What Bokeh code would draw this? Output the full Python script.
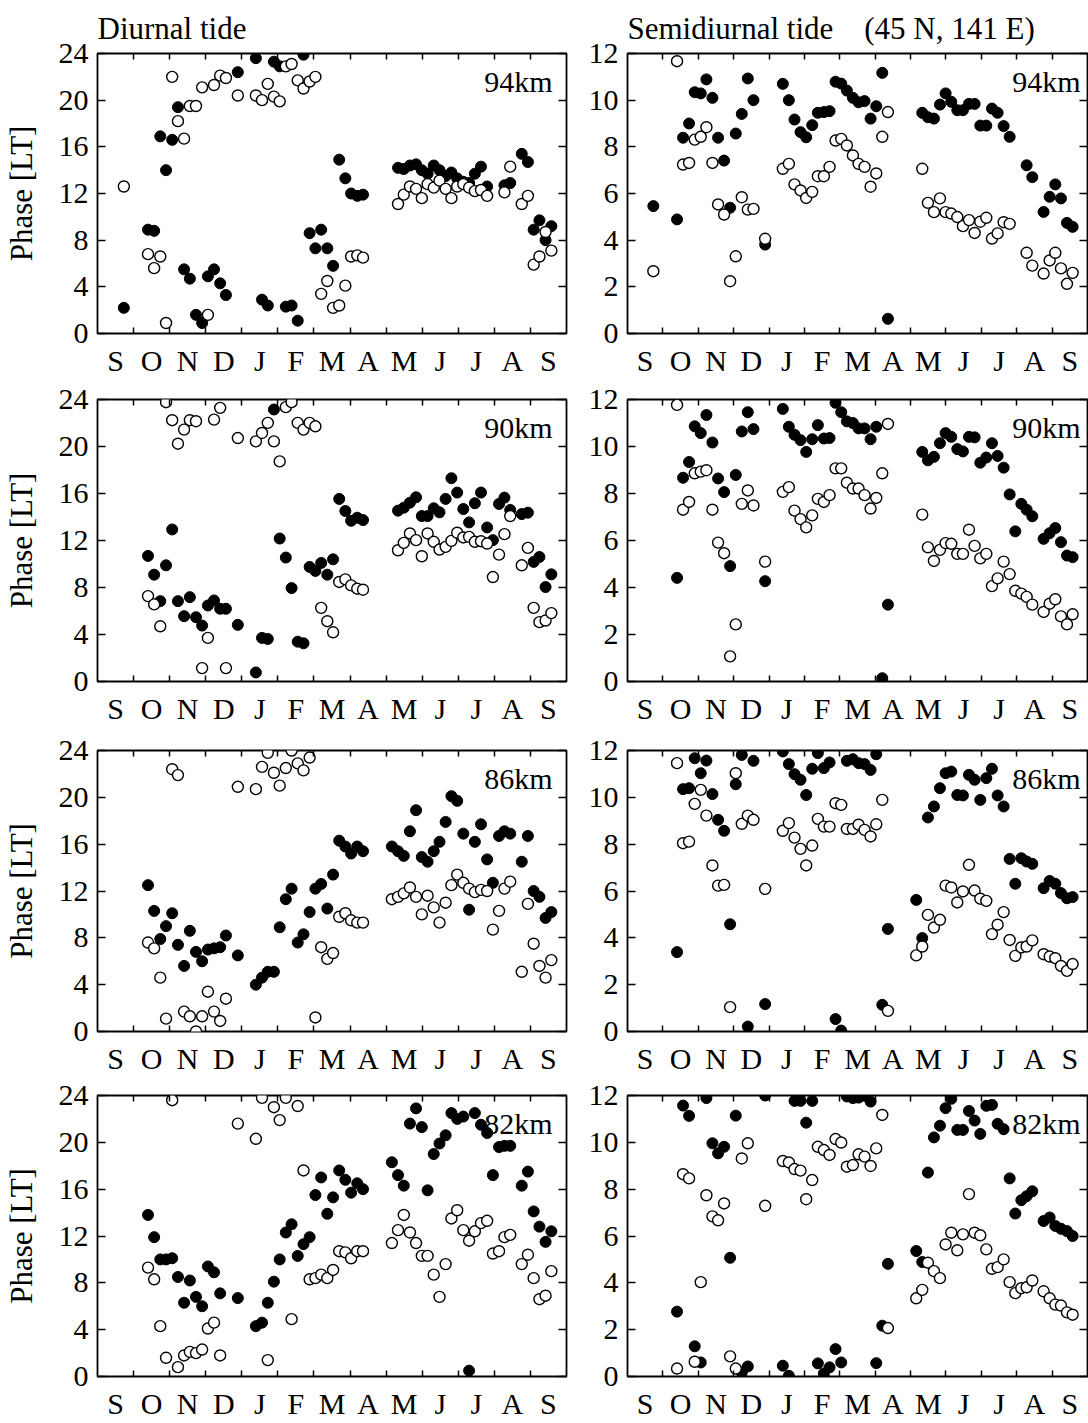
import numpy as np
from bokeh.plotting import figure
from bokeh.models import Range1d, FixedTicker, LinearAxis, Label, ColumnDataSource
from bokeh.layouts import column, row
from bokeh.embed import file_html
from bokeh.resources import INLINE

FONT = "Liberation Serif"

MONTHS = ["S", "O", "N", "D", "J", "F", "M", "A", "M", "J", "J", "A", "S"]

# observation dates, in months counted from 1 September
DATES = [0.73, 1.40, 1.57, 1.74, 1.90, 2.07, 2.23, 2.40, 2.56, 2.73, 2.90, 3.06, 3.23, 3.40, 3.56,
         3.89, 4.39, 4.56, 4.72, 4.89, 5.05, 5.22, 5.38, 5.55, 5.71, 5.88, 6.04, 6.20, 6.37, 6.53,
         6.70, 6.87, 7.03, 7.20, 7.36, 8.16, 8.33, 8.49, 8.66, 8.83, 8.99, 9.15, 9.32, 9.48, 9.65,
         9.81, 9.97, 10.14, 10.30, 10.46, 10.63, 10.80, 10.96, 11.13, 11.28, 11.44, 11.76, 11.93,
         12.09, 12.25, 12.42, 12.58]

# Diurnal tide phase [LT]
D94_FILLED = [2.2, 8.9, 8.8, 16.9, 14.0, 16.6, 19.4, 5.5, 4.7, 1.6, 0.9, 4.9, 5.5, 4.3, 3.3, 22.4, 23.6, 2.9,
              2.4, 23.3, 22.9, 2.3, 2.4, 1.1, 23.9, 8.6, 7.3, 8.9, 7.3, 5.8, 14.9, 13.3, 12.0, 11.8, 11.9,
              None, 14.2, 14.1, 14.4, 14.5, 14.0, 13.7, 14.4, 14.0, 13.5, 13.8, 13.3, 13.0, 12.9, 13.7, 14.3,
              12.6, None, None, 12.7, 12.9, 15.4, 14.7, 8.9, 9.7, 8.0, 9.2]
D94_OPEN = [12.6, 6.8, 5.6, 6.6, 0.9, 22.0, 18.2, 16.7, 19.5, 19.5, 21.1, 1.6, 21.3, 22.1, 21.9, 20.4, 20.4,
            20.0, 21.4, 20.3, 19.9, 22.9, 23.1, 21.7, 21.0, 21.6, 22.0, 3.4, 4.5, 2.2, 2.4, 4.1, 6.6, 6.7, 6.5,
            None, 11.1, 11.9, 12.6, 12.4, 11.6, 12.8, 12.5, 13.1, 12.4, 11.6, 12.6, 12.8, 12.5, 12.2, 12.3,
            11.8, None, None, 12.1, 14.3, 11.1, 11.8, 5.9, 6.6, 8.7, 7.1]
D90_FILLED = [None, 10.69, 9.09, 6.84, 9.89, 12.94, 6.84, 5.56, 7.18, 5.47, 4.76, 6.47, 6.9, 6.19, 6.19, 4.82,
              0.77, 3.71, 3.62, 23.15, 12.17, 10.55, 7.95, 3.39, 3.25, 9.75, 9.41, 10.09, 9.09, 10.4, 15.54,
              14.51, 13.68, 13.94, 13.74, None, 14.54, 14.79, 15.22, 15.68, 14.08, 14.08, 14.74, 14.4, 15.54,
              17.3, 16.08, 14.68, 13.54, 15.17, 16.08, 13.11, 12.03, 15.11, 15.65, 14.6, 14.25, 14.37, 10.18,
              10.6, 8.04, 9.12]
D90_OPEN = [None, 7.27, 6.56, 4.7, 23.77, 22.24, 20.24, 21.44, 22.24, 22.15, 1.14, 3.71, 22.29, 23.29, 1.14,
            20.72, 20.44, 21.15, 22.01, 20.44, 18.73, 23.35, 23.77, 22.01, 21.44, 22.01, 21.72, 6.27, 5.13,
            4.19, 8.47, 8.69, 8.18, 7.9, 7.81, None, 11.17, 11.8, 12.6, 12.03, 10.66, 12.6, 11.89, 11.23,
            11.46, 11.97, 12.66, 12.26, 12.31, 11.89, 11.94, 11.74, 8.89, 10.8, 12.54, 14.08, 9.89, 11.37,
            6.27, 5.05, 5.19, 5.82]
D86_FILLED = [None, 12.5, 10.3, 7.9, 9.0, 10.1, 7.4, 5.6, 8.6, 6.8, 6.0, 7.0, 7.1, 7.2, 8.2, 6.5, 4.0, 4.6,
              5.1, 5.1, 8.9, 11.3, 12.2, 7.6, 8.3, 10.2, 12.2, 12.6, 10.5, 13.4, 16.3, 15.8, 15.2, 15.8, 15.4,
              15.8, 15.4, 15.0, 17.1, 18.9, 14.9, 14.5, 15.4, 16.2, 17.9, 20.1, 19.7, 16.9, 10.4, 16.2, 17.7,
              14.7, 12.7, 16.7, 17.1, 16.9, 14.5, 16.7, 12.0, 11.5, 9.7, 10.2]
D86_OPEN = [None, 7.6, 7.1, 4.6, 1.1, 22.4, 21.9, 1.7, 1.3, 0.0, 1.3, 3.4, 1.7, 0.9, 2.8, 20.9, 20.7, 22.6,
            23.8, 22.1, 21.0, 22.5, 24.0, 22.9, 22.3, 23.4, 1.2, 7.2, 6.2, 6.7, 9.8, 10.1, 9.5, 9.3, 9.3,
            11.3, 11.5, 11.8, 12.3, 11.5, 10.0, 11.6, 10.6, 9.3, 11.0, 12.5, 13.4, 12.7, 12.2, 11.9, 12.1,
            12.0, 8.7, 10.3, 12.2, 12.8, 5.1, 10.9, 7.5, 5.6, 4.6, 6.1]
D82_FILLED = [None, 13.8, 11.9, 10.0, 10.0, 10.1, 8.5, 6.3, 8.2, 6.8, 6.0, 9.4, 8.9, 7.1, None, 6.7, 4.3, 4.6,
              6.3, 8.1, 10.0, 12.3, 13.0, 10.3, 11.3, 11.9, 15.5, 17.0, 13.9, 15.3, 17.6, 16.8, 15.7, 16.5,
              16.0, 18.3, 17.2, 16.3, 21.6, 22.9, 21.3, 15.9, 19.0, 19.9, 20.6, 22.5, 22.0, 22.2, 0.5, 22.5,
              21.5, 20.8, 17.2, 19.6, 19.7, 19.7, 16.3, 17.5, 14.1, 12.8, 11.5, 12.4]
D82_OPEN = [None, 9.3, 8.3, 4.3, 1.6, 23.6, 0.8, 1.8, 2.1, 2.0, 2.3, 4.1, 4.6, 1.8, None, 21.6, 20.3, 23.8,
            1.4, 23.0, 21.9, 23.8, 4.9, 23.1, 17.6, 8.3, 8.4, 8.7, 8.4, 9.1, 10.7, 10.6, 10.1, 10.7, 10.7,
            11.4, 12.5, 13.8, 12.3, 11.4, 10.3, 10.3, 8.7, 6.8, 9.6, 13.5, 14.2, 12.5, 11.6, 12.4, 13.1,
            13.3, 10.5, 10.7, 11.9, 12.1, 9.6, 10.4, 8.4, 6.6, 6.9, 9.0]

# Semidiurnal tide phase [LT]
S94_FILLED = [5.46, 4.89, 8.39, 9.0, 10.34, 10.29, 10.89, 10.1, 8.39, 7.41, 5.39, 8.57, 9.41, 10.93, 10.0,
              3.81, 10.7, 10.0, 9.17, 8.63, 8.41, 8.93, 9.46, 9.49, 9.53, 10.79, 10.71, 10.41, 10.1, 9.91,
              9.96, 9.21, 9.74, 11.17, 0.63, None, 9.46, 9.27, 9.21, 9.81, 10.29, 9.93, 9.57, 9.57, 9.84,
              9.84, 8.91, 8.91, 9.64, 9.46, 8.89, 8.43, None, None, 7.21, 6.7, 5.21, 5.86, 6.39, 5.79, 4.74,
              4.57]
S94_OPEN = [2.67, 11.67, 7.24, 7.31, 8.31, 8.43, 8.84, 7.31, 5.53, 5.10, 2.24, 3.31, 5.84, 5.31, 5.34, 4.06,
            7.06, 7.27, 6.39, 6.13, 5.81, 6.07, 6.74, 6.74, 7.14, 8.27, 8.34, 8.06, 7.63, 7.27, 7.14, 6.29,
            6.86, 8.43, 9.49, None, 7.06, 5.6, 5.2, 5.79, 5.2, 5.14, 4.99, 4.6, 4.86, 4.31, 4.79, 4.96,
            4.07, 4.29, 4.77, 4.7, None, None, 3.46, 2.91, 2.57, 3.13, 3.46, 2.79, 2.13, 2.6]
S90_FILLED = [None, 4.41, 8.67, 9.34, 10.86, 10.57, 11.34, 10.17, 8.64, 8.06, 4.91, 8.79, 10.64, 11.46,
              10.74, 4.27, 11.6, 10.84, 10.5, 10.27, 9.77, 10.31, 10.91, 10.34, 10.36, 11.86, 11.46, 11.07,
              11.0, 10.77, 10.77, 10.31, 10.84, 0.14, 3.27, None, 9.77, 9.41, 9.56, 10.14, 10.57, 10.41,
              9.89, 9.79, 10.41, 10.39, 9.31, 9.53, 10.14, 9.6, 9.1, 7.96, 6.39, 7.56, 7.31, 7.03, 6.07,
              6.31, 6.53, 5.93, 5.36, 5.29]
S90_OPEN = [None, 11.77, 7.31, 7.64, 8.86, 8.93, 8.99, 7.31, 5.91, 5.46, 1.07, 2.43, 7.56, 8.13, 7.49, 5.1,
            8.07, 8.27, 7.27, 6.91, 6.56, 7.07, 7.77, 7.64, 7.93, 9.07, 9.07, 8.46, 8.21, 8.21, 7.93, 7.36,
            7.81, 8.86, 10.96, None, 7.1, 5.71, 5.13, 5.6, 5.89, 5.86, 5.43, 5.43, 6.46, 5.77, 5.24, 5.43,
            4.06, 4.39, 5.1, 4.57, 3.86, 3.74, 3.6, 3.27, 2.96, 3.31, 3.5, 2.77, 2.43, 2.86]
S86_FILLED = [None, 3.39, 10.35, 10.39, 11.67, 11.03, 11.57, 10.14, 9.04, 8.57, 4.58, 10.56, 11.81, 0.21,
              11.56, 1.17, 11.96, 11.42, 10.99, 10.75, 10.1, 11.22, 11.89, 11.25, 11.49, 0.53, 0.04, 11.56,
              11.63, 11.46, 11.42, 11.17, 11.84, 1.14, 4.38, 5.62, 3.99, 9.14, 9.61, 10.39, 11.03, 11.1,
              10.1, 10.08, 10.96, 10.75, 9.89, 10.82, 11.22, 10.08, 9.61, 7.37, 6.31, 7.4, 7.26, 7.16, 6.12,
              6.43, 6.31, 5.91, 5.69, 5.74]
S86_OPEN = [None, 11.46, 8.04, 8.11, 9.72, 10.32, 9.22, 7.09, 6.23, 6.26, 1.04, 11.03, 8.87, 9.22, 9.04,
            6.09, 8.57, 8.9, 8.28, 7.8, 7.09, 7.94, 9.08, 8.75, 8.75, 9.75, 9.68, 8.65, 8.65, 8.83, 8.61,
            8.33, 8.85, 9.89, 0.88, 3.25, 3.63, 4.98, 4.44, 4.77, 6.23, 6.15, 5.51, 5.98, 7.12, 6.02, 5.67,
            5.58, 4.16, 4.56, 5.1, 3.91, 3.23, 3.59, 3.63, 3.89, 3.3, 3.2, 3.13, 2.8, 2.59, 2.88]
S82_FILLED = [None, 2.77, 11.57, 11.13, 1.29, 0.6, 11.89, 9.96, 9.53, 9.81, 5.07, 11.14, 0.17, 0.43, None,
              12.0, 0.46, 0.03, 11.77, 11.77, 10.84, 11.77, 0.56, 0.13, 0.39, 1.17, 0.6, 11.96, 11.89, 11.91,
              11.99, 11.74, 0.57, 2.17, 4.81, 5.36, 4.89, 8.71, 10.21, 10.71, 11.46, 11.86, 10.53, 10.53,
              11.34, 10.93, 10.36, 11.56, 11.6, 10.79, 10.56, 8.46, 6.96, 7.53, 7.7, 7.91, 6.64, 6.79, 6.43,
              6.31, 6.21, 6.0]
S82_OPEN = [None, 0.34, 8.64, 8.46, 0.63, 4.03, 7.74, 6.84, 6.67, 7.39, 0.86, 0.34, 9.31, 9.96, None, 7.29,
            9.2, 9.14, 8.86, 8.79, 7.57, 8.39, 9.81, 9.67, 9.46, 10.14, 9.99, 8.96, 9.03, 9.49, 9.39, 8.99,
            9.74, 11.17, 2.07, 3.34, 3.7, 4.86, 4.5, 4.2, 5.64, 6.14, 5.39, 6.07, 7.79, 6.14, 6.03, 5.43,
            4.6, 4.67, 5.0, 4.03, 3.56, 3.77, 3.81, 4.1, 3.64, 3.34, 3.07, 3.03, 2.74, 2.64]

HEIGHTS = ["94km", "90km", "86km", "82km"]
DIURNAL_TICKS = [0, 4, 8, 12, 16, 20, 24]
SEMIDIURNAL_TICKS = [0, 2, 4, 6, 8, 10, 12]

# (top border, frame height, bottom border) of each row
ROW_BORDERS = [(53, 280, 47), (19, 282, 50), (19, 281, 45), (18, 281, 43)]


def make_panel(filled, opened, yticks, km, left_col, borders, title_text=None):
    top, fh, bottom = borders
    if left_col:
        fw, bl, br, km_off = 469, 97, 14, 14
    else:
        fw, bl, br, km_off = 460, 47, 1, 7
    ymax = yticks[-1]
    p = figure(frame_width=fw, frame_height=fh, x_range=Range1d(0, 13), y_range=Range1d(0, ymax),
               min_border_left=bl, min_border_right=br, min_border_top=top, min_border_bottom=bottom,
               output_backend="svg", toolbar_location=None)
    p.xgrid.visible = False
    p.ygrid.visible = False
    p.background_fill_color = "white"
    p.border_fill_color = "white"
    p.outline_line_color = "black"
    p.outline_line_width = 1.8
    p.outline_line_alpha = 1.0

    if title_text:
        p.title.text = title_text
        p.title.align = "left"
        p.title.text_font = FONT
        p.title.text_font_size = "31px"
        p.title.text_font_style = "normal"
        p.title.text_color = "black"
        p.title.standoff = 15
        p.title.offset = 0
    else:
        p.title.text = ""

    # bottom axis: month letters between tick marks
    xa = p.xaxis[0]
    xa.ticker = FixedTicker(ticks=[i + 0.5 for i in range(13)], minor_ticks=list(range(1, 13)))
    xa.major_label_overrides = {i + 0.5: MONTHS[i] for i in range(13)}
    xa.major_tick_in = 0
    xa.major_tick_out = 0
    xa.minor_tick_in = 6
    xa.minor_tick_out = 0
    xa.minor_tick_line_color = "black"
    xa.minor_tick_line_width = 1.5
    xa.axis_line_color = None
    xa.major_label_text_font = FONT
    xa.major_label_text_font_size = "30px"
    xa.major_label_text_color = "black"
    xa.major_label_standoff = 10

    top_ax = LinearAxis(ticker=FixedTicker(ticks=[], minor_ticks=list(range(1, 13))),
                        major_tick_in=0, major_tick_out=0, minor_tick_in=6, minor_tick_out=0,
                        minor_tick_line_color="black", minor_tick_line_width=1.5,
                        axis_line_color=None, major_label_text_font_size="0px")
    p.add_layout(top_ax, "above")

    ya = p.yaxis[0]
    ya.ticker = FixedTicker(ticks=yticks)
    ya.major_tick_in = 8
    ya.major_tick_out = 0
    ya.minor_tick_in = 0
    ya.minor_tick_out = 0
    ya.major_tick_line_color = "black"
    ya.major_tick_line_width = 1.5
    ya.axis_line_color = None
    ya.major_label_text_font = FONT
    ya.major_label_text_font_size = "30px"
    ya.major_label_text_color = "black"
    ya.major_label_standoff = 9
    if left_col:
        ya.axis_label = "Phase [LT]"
        ya.axis_label_text_font = FONT
        ya.axis_label_text_font_size = "31px"
        ya.axis_label_text_font_style = "normal"
        ya.axis_label_text_color = "black"
        ya.axis_label_standoff = 17

    right_ax = LinearAxis(ticker=FixedTicker(ticks=[], minor_ticks=yticks),
                          major_tick_in=0, major_tick_out=0, minor_tick_in=8, minor_tick_out=0,
                          minor_tick_line_color="black", minor_tick_line_width=1.5,
                          axis_line_color=None, major_label_text_font_size="0px")
    p.add_layout(right_ax, "right")

    src = ColumnDataSource(dict(x=np.array(DATES, dtype=float),
                                yf=np.array(filled, dtype=float),
                                yo=np.array(opened, dtype=float)))
    p.scatter("x", "yf", source=src, marker="circle", size=11,
              fill_color="black", line_color="black", line_width=1)
    p.scatter("x", "yo", source=src, marker="circle", size=11,
              fill_color="white", line_color="black", line_width=1.4)

    p.add_layout(Label(x=13, y=ymax, x_offset=-km_off, y_offset=-28, text=km,
                       text_align="right", text_baseline="middle",
                       text_font=FONT, text_font_size="30px", text_color="black"))
    return p


diurnal = [(D94_FILLED, D94_OPEN), (D90_FILLED, D90_OPEN), (D86_FILLED, D86_OPEN), (D82_FILLED, D82_OPEN)]
semidiurnal = [(S94_FILLED, S94_OPEN), (S90_FILLED, S90_OPEN), (S86_FILLED, S86_OPEN), (S82_FILLED, S82_OPEN)]

rows = []
for i in range(4):
    lt = "Diurnal tide" if i == 0 else None
    rt = "Semidiurnal tide\u00a0\u00a0\u00a0 (45 N, 141 E)" if i == 0 else None
    pl = make_panel(diurnal[i][0], diurnal[i][1], DIURNAL_TICKS, HEIGHTS[i], True, ROW_BORDERS[i], lt)
    pr = make_panel(semidiurnal[i][0], semidiurnal[i][1], SEMIDIURNAL_TICKS, HEIGHTS[i], False,
                    ROW_BORDERS[i], rt)
    rows.append(row(pl, pr))

layout = column(*rows)
open("out.html", "w").write(file_html(layout, INLINE))
